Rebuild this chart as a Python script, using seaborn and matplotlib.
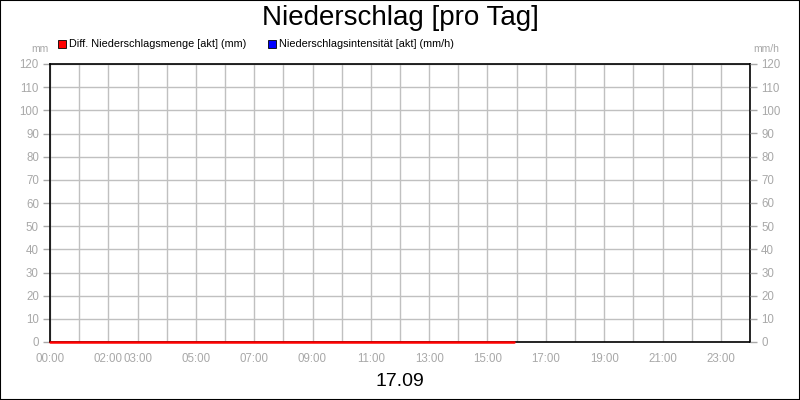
import numpy as np
import pandas as pd
import matplotlib
matplotlib.use("Agg")
import matplotlib.pyplot as plt
import seaborn as sns
from matplotlib.patches import Rectangle

# data: hours of the day with precipitation readings (all zero)
rain_hours = [0, 1, 2, 3, 4, 5, 6, 7, 8, 9, 10, 11, 12, 13, 14, 15, 15.9]
rain_mm = [0, 0, 0, 0, 0, 0, 0, 0, 0, 0, 0, 0, 0, 0, 0, 0, 0]
intensity_hours = []
intensity_mmh = []

tick_hours = list(range(25))
label_hours = [0, 2, 3, 5, 7, 9, 11, 13, 15, 17, 19, 21, 23]
y_ticks = list(range(0, 121, 10))

title = "Niederschlag [pro Tag]"
date_label = "17.09"
legend_labels = ["Diff. Niederschlagsmenge [akt] (mm)", "Niederschlagsintensität [akt] (mm/h)"]
legend_colors = ["#ff0000", "#0000ff"]

sns.set_style("white")
plt.rcParams['font.family'] = ['Liberation Sans', 'DejaVu Sans']

gray = "#a8a8a8"
fig = plt.figure(figsize=(8, 4), dpi=100)
ax = fig.add_axes([0.0625, 0.145, 0.875, 0.695])

rain = pd.DataFrame({"hour": rain_hours, "mm": rain_mm})
sns.lineplot(data=rain, x="hour", y="mm", color=legend_colors[0], linewidth=1.8, ax=ax)
if intensity_hours:
    sns.lineplot(x=intensity_hours, y=intensity_mmh, color=legend_colors[1], ax=ax)
for ln in ax.lines:
    ln.set_clip_on(False)
    ln.set_zorder(10)

ax.set_xlim(0, 24)
ax.set_ylim(0, 120)
ax.set_xticks(tick_hours)
ax.set_xticklabels([f"{h:02d}:00" if h in label_hours else "" for h in tick_hours])
ax.set_yticks(y_ticks)
ax.grid(True, color="#c0c0c0", linewidth=1)
ax.set_axisbelow(True)
ax.tick_params(axis="both", colors=gray, labelsize=8.3, length=5, width=1, direction="out", pad=3)
ax.set_xlabel("")
ax.set_ylabel("")
for s in ax.spines.values():
    s.set_color("black")
    s.set_linewidth(1.2)
    s.set_visible(True)

ax2 = ax.twinx()
ax2.set_ylim(0, 120)
ax2.set_yticks(y_ticks)
ax2.tick_params(axis="y", colors=gray, labelsize=8.3, length=5, width=1, direction="out", pad=3)
for s in ax2.spines.values():
    s.set_visible(False)

fig.text(0.5, 0.955, title, ha="center", va="center", fontsize=20, color="black")
fig.text(0.5, 0.045, date_label, ha="center", va="center", fontsize=14, color="black")
fig.text(0.05, 0.877, "mm", ha="center", va="center", fontsize=7.5, color=gray)
fig.text(0.958, 0.877, "mm/h", ha="center", va="center", fontsize=7.5, color=gray)

legend_x = [0.073, 0.335]
for lx, lab, col in zip(legend_x, legend_labels, legend_colors):
    fig.patches.append(Rectangle((lx, 0.881), 0.0095, 0.019, transform=fig.transFigure,
                                 facecolor=col, edgecolor="black", linewidth=0.6))
    fig.text(lx + 0.0135, 0.89, lab, ha="left", va="center", fontsize=7.8, color="black")

fig.patches.append(Rectangle((0.0006, 0.0012), 0.9988, 0.9976, transform=fig.transFigure,
                             fill=False, edgecolor="black", linewidth=1.5))

fig.savefig("out.png", dpi=100)
